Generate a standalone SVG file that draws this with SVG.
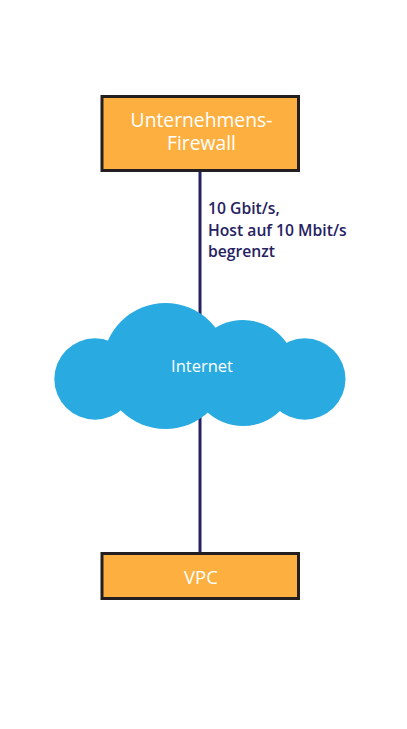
<svg xmlns="http://www.w3.org/2000/svg" width="407" height="729" viewBox="0 0 407 729">
<style>
.box{fill:#fdb040;stroke:#231f20;stroke-width:3}
.cl{fill:#29abe2}
.w{fill:#fff;font-family:"Open Sans","Noto Sans",sans-serif;text-anchor:middle}
.lab{fill:#262262;font-family:"Open Sans","Noto Sans",sans-serif;font-size:15.7px;font-weight:600}
.con{stroke:#262262;stroke-width:3;fill:none}
</style>
<rect width="407" height="729" fill="#fff"/>
<g id="connectors">
<line class="con" x1="200" y1="171" x2="200" y2="320"/>
<line class="con" x1="200" y1="415" x2="200" y2="553"/>
</g>
<g id="firewall">
<rect class="box" x="102" y="96.500" width="196.500" height="74"/>
<text class="w" font-size="19.3"><tspan x="201.500" y="127">Unternehmens-</tspan><tspan x="201.500" y="149.500">Firewall</tspan></text>
</g>
<g id="label">
<text class="lab"><tspan x="208" y="214.300">10 Gbit/s,</tspan><tspan x="208" y="235.700">Host auf 10 Mbit/s</tspan><tspan x="208" y="257">begrenzt</tspan></text>
</g>
<g id="internet">
<circle class="cl" cx="95" cy="379" r="40.7"/>
<circle class="cl" cx="304.800" cy="379" r="40.7"/>
<circle class="cl" cx="165.500" cy="366" r="63"/>
<circle class="cl" cx="243" cy="373" r="53"/>
<rect class="cl" x="95" y="370" width="205" height="30"/>
<text class="w" font-size="16.500" font-weight="500" x="202" y="372.300">Internet</text>
</g>
<g id="vpc">
<rect class="box" x="102" y="553.500" width="196.500" height="45"/>
<text class="w" font-size="18.500" x="201" y="583.500">VPC</text>
</g>
</svg>
